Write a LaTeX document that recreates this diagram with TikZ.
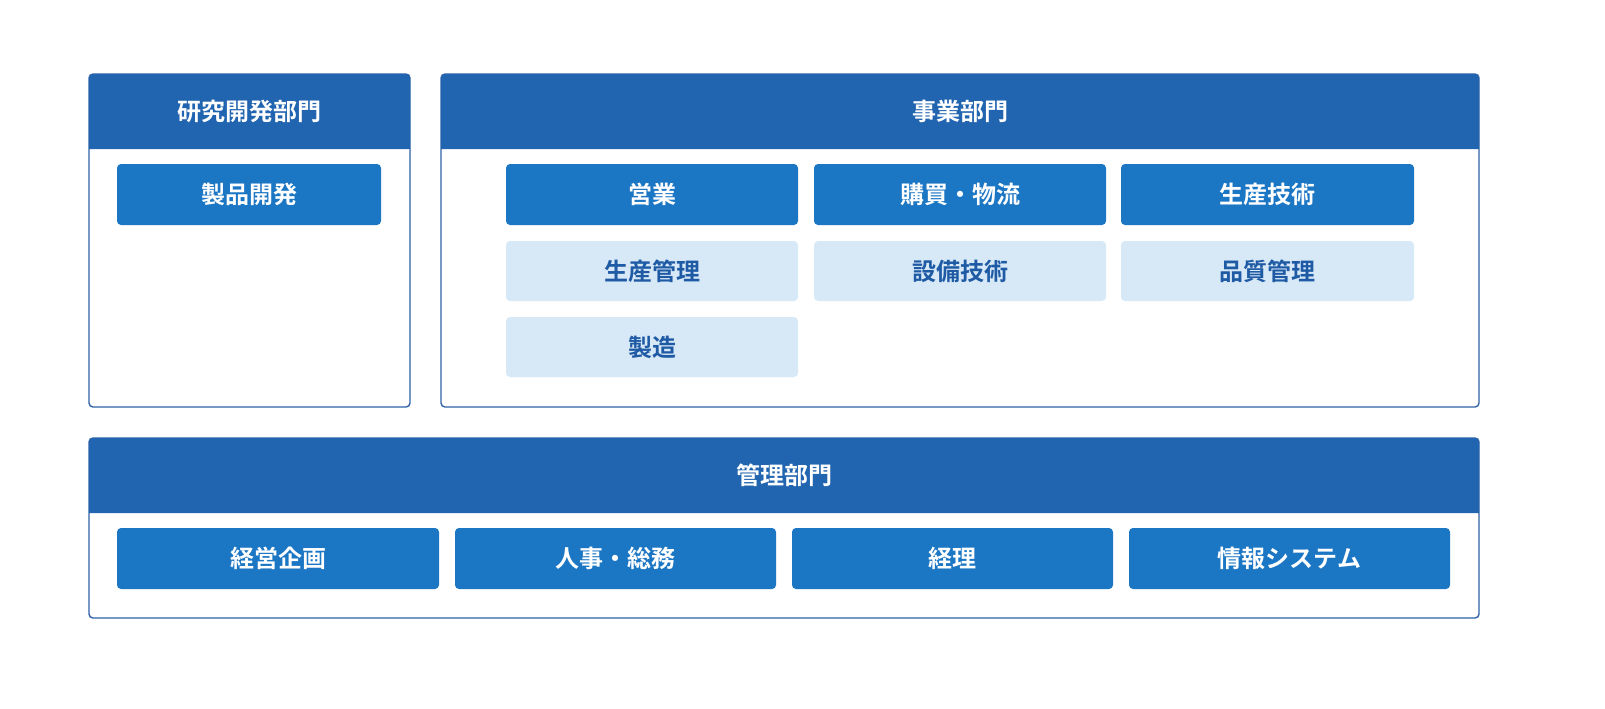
\documentclass[tikz,border=0pt]{standalone}
\usepackage{fontspec}
\newfontfamily\jp{Noto Sans CJK JP Bold}
\definecolor{hdr}{HTML}{2164B0}
\definecolor{bd}{HTML}{2F62A6}
\definecolor{item}{HTML}{1B76C4}
\definecolor{lite}{HTML}{D7E8F7}
\definecolor{litetext}{HTML}{1F5BA5}
\tikzset{
 frame/.style={draw=bd,line width=0.7pt,rounded corners=2pt,fill=white},
 itembox/.style={fill=item,rounded corners=2pt},
 litebox/.style={fill=lite,rounded corners=2pt},
 lbl/.style={text=white,font=\jp\fontsize{12}{14}\selectfont},
 litelbl/.style={text=litetext,font=\jp\fontsize{12}{14}\selectfont},
}
\newcommand{\grp}[6]{% name x1 y1 x2 y2 title ; header bottom at y1+75
 \draw[frame] (#2,#3) rectangle (#4,#5);
 \fill[hdr] (#2,#3+75) [rounded corners=2pt] -- (#2,#3) -- (#4,#3) [sharp corners] -- (#4,#3+75) -- cycle;
 \node[lbl] (#1) at ({(#2+#4)/2},#3+37.5) {#6};}
\newcommand{\itm}[7]{% name style lblstyle x1 y1 x2 y2 ; text via next
 \fill[#2] (#4,#5) rectangle (#6,#7);
 \node[#3] (#1) at ({(#4+#6)/2},{(#5+#7)/2}) }
\begin{document}
\begin{tikzpicture}[x=0.5pt,y=-0.5pt]
\useasboundingbox (0,0) rectangle (1605,708);
\grp{rd}{89}{74}{410}{407}{研究開発部門}
\grp{bu}{441}{74}{1479}{407}{事業部門}
\grp{ad}{89}{438}{1479}{618}{管理部門}
\itm{a1}{itembox}{lbl}{117}{164}{381}{225}{製品開発};
\itm{b1}{itembox}{lbl}{506}{164}{798}{225}{営業};
\itm{b2}{itembox}{lbl}{814}{164}{1106}{225}{購買・物流};
\itm{b3}{itembox}{lbl}{1121}{164}{1414}{225}{生産技術};
\itm{b4}{litebox}{litelbl}{506}{241}{798}{301}{生産管理};
\itm{b5}{litebox}{litelbl}{814}{241}{1106}{301}{設備技術};
\itm{b6}{litebox}{litelbl}{1121}{241}{1414}{301}{品質管理};
\itm{b7}{litebox}{litelbl}{506}{317}{798}{377}{製造};
\itm{c1}{itembox}{lbl}{117}{528}{439}{589}{経営企画};
\itm{c2}{itembox}{lbl}{455}{528}{776}{589}{人事・総務};
\itm{c3}{itembox}{lbl}{792}{528}{1113}{589}{経理};
\itm{c4}{itembox}{lbl}{1129}{528}{1450}{589}{情報システム};
\end{tikzpicture}
\end{document}
